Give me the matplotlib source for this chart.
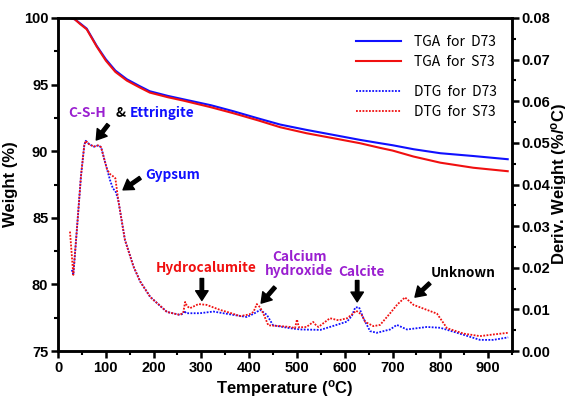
import matplotlib
matplotlib.use('Agg')
import matplotlib.pyplot as plt

# TGA curves (weight %, left axis)
t_tga = [25, 35, 46, 60, 81, 100, 120, 144, 170, 192, 230, 262, 320, 367, 420, 465,
         520, 580, 632, 674, 700, 744, 800, 869, 941]
tga_d73 = [100.0, 99.9, 99.6, 99.2, 97.9, 96.9, 96.05, 95.4, 94.9, 94.5, 94.15, 93.9,
           93.45, 93.0, 92.45, 92.0, 91.6, 91.2, 90.85, 90.6, 90.45, 90.15, 89.85, 89.64, 89.4]
tga_s73 = [100.0, 99.9, 99.55, 99.15, 97.85, 96.8, 95.95, 95.3, 94.8, 94.4, 94.05, 93.8,
           93.3, 92.85, 92.3, 91.8, 91.35, 90.95, 90.6, 90.25, 90.05, 89.6, 89.14, 88.76, 88.5]

# DTG curves (%/degC, right axis)
t_dtg_s = [25, 32, 40, 48, 55, 58, 65, 75, 84, 90, 97, 103, 109, 115, 120, 126, 140, 158,
           172, 193, 228, 255, 262, 266, 270, 276, 285, 294, 311, 339, 360, 381, 400, 409,
           416, 423, 430, 440, 465, 486, 496, 500, 504, 520, 534, 540, 545, 569, 587, 605,
           615, 624, 635, 643, 660, 674, 695, 710, 726, 744, 772, 793, 814, 849, 883, 911, 942]
dtg_s73 = [0.0287, 0.0183, 0.030, 0.042, 0.0495, 0.0505, 0.0497, 0.0491, 0.0494, 0.049,
           0.046, 0.0435, 0.0425, 0.042, 0.0415, 0.0363, 0.0267, 0.0203, 0.0167, 0.013,
           0.0094, 0.0087, 0.0092, 0.0118, 0.0108, 0.0103, 0.0108, 0.0113, 0.0111, 0.0099,
           0.0092, 0.0084, 0.0088, 0.0094, 0.0113, 0.0105, 0.0089, 0.0062, 0.006, 0.0058,
           0.0055, 0.0076, 0.0057, 0.0058, 0.007, 0.0062, 0.0058, 0.0079, 0.0074, 0.0079,
           0.0088, 0.0097, 0.0088, 0.007, 0.006, 0.0063, 0.0091, 0.0112, 0.0129, 0.0111,
           0.0099, 0.009, 0.0055, 0.0042, 0.0036, 0.004, 0.0044]

t_dtg_d = [29, 32, 40, 48, 55, 58, 65, 75, 84, 90, 97, 103, 109, 115, 120, 126, 140, 158,
           172, 193, 228, 255, 262, 264, 268, 297, 325, 367, 395, 410, 423, 437, 450, 486,
           507, 549, 569, 605, 615, 622, 630, 639, 653, 667, 695, 709, 730, 772, 800, 835,
           883, 911, 942]
dtg_d73 = [0.0195, 0.0183, 0.030, 0.042, 0.0495, 0.0505, 0.0497, 0.0491, 0.0494, 0.049,
           0.046, 0.0435, 0.041, 0.039, 0.0385, 0.0363, 0.0267, 0.0203, 0.0167, 0.013,
           0.0094, 0.0087, 0.009, 0.0097, 0.0091, 0.0091, 0.0095, 0.0087, 0.0082, 0.009,
           0.0099, 0.0087, 0.0062, 0.0055, 0.0052, 0.0051, 0.0058, 0.0071, 0.0085, 0.0105,
           0.0105, 0.0079, 0.0048, 0.0044, 0.0052, 0.0063, 0.0052, 0.0058, 0.0056, 0.0044,
           0.0027, 0.0027, 0.0033]

blue = '#1010ff'
red = '#f01010'
purple = '#9a1fd0'

tick_font = 'Liberation Sans'
note_font = ['Noto Sans CJK KR', 'DejaVu Sans']

fig = plt.figure(figsize=(5.65, 3.99), dpi=100)
ax = fig.add_axes([0.1027, 0.12, 0.8035, 0.835])
ax2 = ax.twinx()

l1, = ax.plot(t_tga, tga_d73, color=blue, lw=1.5, label='TGA  for  D73')
l2, = ax.plot(t_tga, tga_s73, color=red, lw=1.5, label='TGA  for  S73')
l3, = ax2.plot(t_dtg_d, dtg_d73, color=blue, lw=1.3, ls=(0, (1, 0.8)), label='DTG  for  D73')
l4, = ax2.plot(t_dtg_s, dtg_s73, color=red, lw=1.3, ls=(0, (1, 0.8)), label='DTG  for  S73')

ax.set_xlim(0, 950)
ax.set_ylim(75, 100)
ax2.set_ylim(0, 0.08)
ax.set_xticks(range(0, 901, 100))
ax.set_xticks(range(50, 951, 100), minor=True)
ax.set_yticks([75, 80, 85, 90, 95, 100])
ax.set_yticks([77.5, 82.5, 87.5, 92.5, 97.5], minor=True)
ax2.set_yticks([0, 0.01, 0.02, 0.03, 0.04, 0.05, 0.06, 0.07, 0.08])
ax2.set_yticks([0.005 + 0.01 * i for i in range(8)], minor=True)
ax2.set_yticklabels(['0.00', '0.01', '0.02', '0.03', '0.04', '0.05', '0.06', '0.07', '0.08'])

for a in (ax, ax2):
    for s in a.spines.values():
        s.set_linewidth(1.8)
    a.tick_params(which='major', direction='out', length=5, width=1.8, pad=2)
    a.tick_params(which='minor', direction='out', length=3, width=1.5)
    for lab in a.get_xticklabels() + a.get_yticklabels():
        lab.set_fontfamily(tick_font)
        lab.set_fontweight('bold')
        lab.set_fontsize(10.5)
ax.tick_params(axis='x', top=False, which='both')

ax.set_xlabel('Temperature ($\\mathregular{^{o}}$C)', fontfamily=tick_font,
              fontweight='bold', fontsize=12, labelpad=2)
ax.set_ylabel('Weight (%)', fontfamily=tick_font, fontweight='bold', fontsize=12, labelpad=4)
# right axis label, partly outside the canvas as in the original figure
fig.text(549 / 565, 0.54, 'Deriv. Weight (%/$\\mathregular{^{o}}$C)', rotation=90,
         ha='left', va='center', fontfamily=tick_font, fontweight='bold', fontsize=12)

ax.legend(handles=[l1, l2], loc='upper left', bbox_to_anchor=(0.64, 0.97),
          frameon=False, handlelength=3.3, handletextpad=0.9,
          prop={'family': note_font, 'size': 10}, labelspacing=0.45, borderpad=0)
ax2.legend(handles=[l3, l4], loc='upper left', bbox_to_anchor=(0.64, 0.82),
           frameon=False, handlelength=3.3, handletextpad=0.9,
           prop={'family': note_font, 'size': 10}, labelspacing=0.45, borderpad=0)

arrow = dict(facecolor='black', edgecolor='black', width=2.5, headwidth=9,
             headlength=7, shrink=0)
note = dict(family=note_font, fontweight='bold', fontsize=9.8)

ax.text(21, 92.87, 'C-S-H', color=purple, ha='left', va='center', **note)
ax.text(121, 92.87, '&', color='black', ha='left', va='center', **note)
ax.text(151, 92.87, 'Ettringite', color=blue, ha='left', va='center', **note)
ax.annotate('', xy=(80, 90.84), xytext=(105, 92.0), arrowprops=arrow)

ax.text(182, 88.2, 'Gypsum', color=blue, ha='left', va='center', **note)
ax.annotate('', xy=(136, 87.1), xytext=(172, 88.0), arrowprops=arrow)

ax.text(310, 81.2, 'Hydrocalumite', color=red, ha='center', va='center', **note)
ax.annotate('', xy=(301, 78.8), xytext=(301, 80.45), arrowprops=arrow)

ax.text(505, 81.5, 'Calcium\nhydroxide', color=purple, ha='center', va='center',
        linespacing=1.0, **note)
ax.annotate('', xy=(425, 78.6), xytext=(454, 79.8), arrowprops=arrow)

ax.text(636, 80.9, 'Calcite', color=purple, ha='center', va='center', **note)
ax.annotate('', xy=(626, 78.7), xytext=(626, 80.3), arrowprops=arrow)

ax.text(848, 80.85, 'Unknown', color='black', ha='center', va='center', **note)
ax.annotate('', xy=(747, 79.05), xytext=(778, 80.1), arrowprops=arrow)

fig.savefig('out.png', dpi=100)
